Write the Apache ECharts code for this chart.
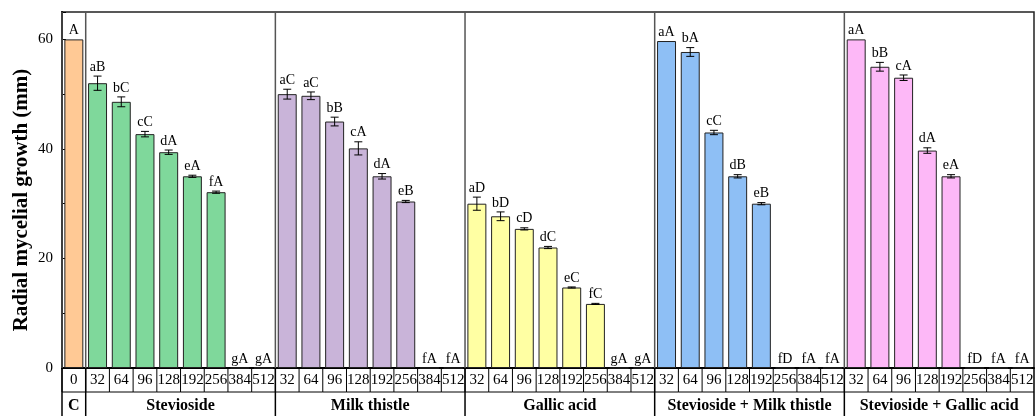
<!DOCTYPE html>
<html>
<head>
<meta charset="utf-8">
<script src="https://cdn.jsdelivr.net/npm/echarts@6/dist/echarts.min.js"></script>
<style>
html, body { margin: 0; padding: 0; background: #fff; }
#c1 { width: 1035px; height: 416px; }
</style>
</head>
<body>
<div id="c1"></div>
<script>
// groups and doses
var groupNames = ['C', 'Stevioside', 'Milk thistle', 'Gallic acid', 'Stevioside + Milk thistle', 'Stevioside + Gallic acid'];
var groupColors = ['#FFC995', '#7FD89B', '#C9B4D9', '#FFFFA3', '#8EBFF5', '#FDB8F7'];
var controlDoses = ['0'];
var treatDoses = ['32', '64', '96', '128', '192', '256', '384', '512'];

// means (mm)
var controlMean = [60];
var steviosideMean = [52.0, 48.6, 42.7, 39.4, 35.0, 32.1, 0, 0];
var milkMean = [50.0, 49.7, 45.0, 40.1, 35.0, 30.4, 0, 0];
var gallicMean = [30.0, 27.7, 25.4, 22.0, 14.7, 11.7, 0, 0];
var stevMilkMean = [59.7, 57.7, 43.0, 35.0, 30.0, 0, 0, 0];
var stevGallicMean = [60.0, 55.0, 53.0, 39.7, 35.0, 0, 0, 0];

// standard errors
var controlErr = [0];
var steviosideErr = [1.3, 0.9, 0.5, 0.4, 0.2, 0.2, 0, 0];
var milkErr = [0.9, 0.7, 0.8, 1.2, 0.5, 0.2, 0, 0];
var gallicErr = [1.2, 0.8, 0.2, 0.2, 0.1, 0.1, 0, 0];
var stevMilkErr = [0, 0.8, 0.4, 0.3, 0.2, 0, 0, 0];
var stevGallicErr = [0, 0.8, 0.5, 0.5, 0.3, 0, 0, 0];

// significance letters
var controlLetters = ['A'];
var steviosideLetters = ['aB', 'bC', 'cC', 'dA', 'eA', 'fA', 'gA', 'gA'];
var milkLetters = ['aC', 'aC', 'bB', 'cA', 'dA', 'eB', 'fA', 'fA'];
var gallicLetters = ['aD', 'bD', 'cD', 'dC', 'eC', 'fC', 'gA', 'gA'];
var stevMilkLetters = ['aA', 'bA', 'cC', 'dB', 'eB', 'fD', 'fA', 'fA'];
var stevGallicLetters = ['aA', 'bB', 'cA', 'dA', 'eA', 'fD', 'fA', 'fA'];

var yTicks = [0, 20, 40, 60];

var means = [controlMean, steviosideMean, milkMean, gallicMean, stevMilkMean, stevGallicMean];
var errs = [controlErr, steviosideErr, milkErr, gallicErr, stevMilkErr, stevGallicErr];
var letters = [controlLetters, steviosideLetters, milkLetters, gallicLetters, stevMilkLetters, stevGallicLetters];

var categories = [];
var barData = [];
var errData = [];
var groupData = [];
var serif = 'Liberation Serif, Times New Roman, serif';

for (var g = 0; g < groupNames.length; g++) {
    var doses = g == 0 ? controlDoses : treatDoses;
    var start = categories.length;
    for (var k = 0; k < doses.length; k++) {
        var i = categories.length;
        categories.push(doses[k]);
        barData.push({ value: means[g][k], itemStyle: { color: groupColors[g] } });
        errData.push([i, means[g][k], errs[g][k], letters[g][k]]);
    }
    groupData.push([start, categories.length - 1, groupNames[g]]);
}

var dom = document.getElementById('c1');
var myChart = echarts.init(dom);

option = {
    animation: false,
    grid: {
        left: 62, right: 1, top: 12, bottom: 48,
        outerBoundsMode: 'none',
        show: true, borderColor: '#222', borderWidth: 1.5
    },
    xAxis: {
        type: 'category',
        data: categories,
        axisLine: { lineStyle: { color: '#000', width: 2 } },
        axisTick: { show: false },
        axisLabel: { interval: 0, color: '#000', fontFamily: serif, fontSize: 15, margin: 5 }
    },
    yAxis: {
        type: 'value',
        min: 0, max: 65, interval: 20,
        name: 'Radial mycelial growth (mm)',
        nameLocation: 'middle',
        nameGap: 30,
        nameMoveOverlap: false,
        nameTextStyle: { color: '#000', fontFamily: serif, fontSize: 21, fontWeight: 'bold', padding: [0, 20, 0, 0] },
        axisLine: { show: true, lineStyle: { color: '#000', width: 2 } },
        axisTick: { show: true, inside: true, length: 4, lineStyle: { color: '#000' } },
        minorTick: { show: true, splitNumber: 2, length: 3, lineStyle: { color: '#000' } },
        splitLine: { show: false },
        axisLabel: {
            color: '#000', fontFamily: serif, fontSize: 15, margin: 9, showMaxLabel: false,
            formatter: function (v) { return yTicks.indexOf(v) >= 0 ? v : ''; }
        }
    },
    series: [
        {
            type: 'bar',
            data: barData,
            barWidth: '80%',
            itemStyle: { borderColor: '#222', borderWidth: 1 },
            z: 2
        },
        {
            // error bars + letters
            type: 'custom',
            data: errData,
            z: 3,
            renderItem: function (params, api) {
                var i = api.value(0), v = api.value(1), e = api.value(2);
                var top = api.coord([i, v + e]);
                var bot = api.coord([i, v - e]);
                var children = [];
                if (e > 0) {
                    var st = { stroke: '#000', lineWidth: 1 };
                    children.push({ type: 'line', shape: { x1: top[0], y1: top[1], x2: bot[0], y2: bot[1] }, style: st });
                    children.push({ type: 'line', shape: { x1: top[0] - 4, y1: top[1], x2: top[0] + 4, y2: top[1] }, style: st });
                    children.push({ type: 'line', shape: { x1: bot[0] - 4, y1: bot[1], x2: bot[0] + 4, y2: bot[1] }, style: st });
                }
                children.push({
                    type: 'text',
                    style: {
                        x: top[0], y: top[1] - 2, text: errData[params.dataIndex][3],
                        fill: '#000', font: '14px ' + serif, align: 'center', verticalAlign: 'bottom'
                    }
                });
                return { type: 'group', children: children };
            }
        },
        {
            // dose cell borders below the axis
            type: 'custom',
            data: errData.map(function (d) { return [d[0], 0]; }),
            z: 4,
            renderItem: function (params, api) {
                var p = api.coord([api.value(0), 0]);
                var w = api.size([1, 0])[0];
                var st = { stroke: '#000', lineWidth: 1 };
                return {
                    type: 'group',
                    children: [
                        { type: 'line', shape: { x1: p[0] - w / 2, y1: p[1], x2: p[0] - w / 2, y2: p[1] + 24 }, style: st },
                        { type: 'line', shape: { x1: p[0] - w / 2, y1: p[1] + 24, x2: p[0] + w / 2, y2: p[1] + 24 }, style: st }
                    ]
                };
            }
        },
        {
            // group separators and group names
            type: 'custom',
            data: groupData,
            z: 4,
            renderItem: function (params, api) {
                var a = api.coord([api.value(0), 0]);
                var b = api.coord([api.value(1), 0]);
                var w = api.size([1, 0])[0];
                var topY = api.coord([0, 65])[1];
                var x0 = a[0] - w / 2, x1 = b[0] + w / 2;
                var children = [
                    { type: 'line', shape: { x1: x0, y1: topY, x2: x0, y2: a[1] }, style: { stroke: '#555', lineWidth: 1.5 } },
                    { type: 'line', shape: { x1: x0, y1: a[1], x2: x0, y2: a[1] + 48 }, style: { stroke: '#000', lineWidth: 1.5 } },
                    {
                        type: 'text',
                        style: {
                            x: (x0 + x1) / 2, y: a[1] + 38, text: groupData[params.dataIndex][2],
                            fill: '#000', font: 'bold 16px ' + serif, align: 'center', verticalAlign: 'middle'
                        }
                    }
                ];
                if (params.dataIndex == groupData.length - 1) {
                    children.push({ type: 'line', shape: { x1: x1, y1: a[1], x2: x1, y2: a[1] + 48 }, style: { stroke: '#000', lineWidth: 1.5 } });
                }
                return { type: 'group', children: children };
            }
        }
    ]
};

if (option && typeof option === "object") {
    myChart.setOption(option, true);
}
</script>
</body>
</html>
